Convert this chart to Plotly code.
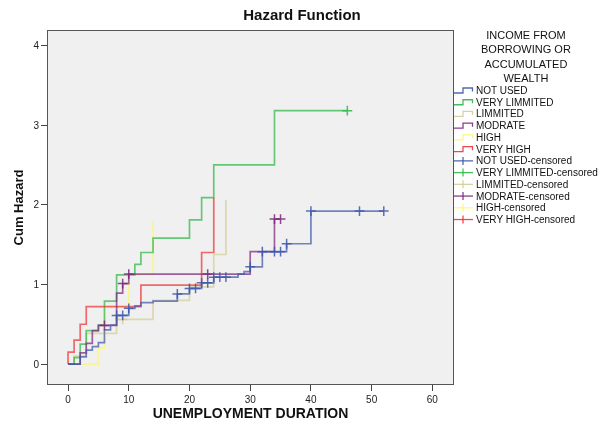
import plotly.graph_objects as go

# ---------------- data ----------------
groups = ["NOT USED", "VERY LIMMITED", "LIMMITED", "MODRATE", "HIGH", "VERY HIGH"]
colors = ["#3E58AC", "#2EB848", "#D3CE97", "#7C287D", "#FBF873", "#EF3338"]

not_used_t = [2, 3, 4, 5, 6, 7, 8, 10, 11, 12, 14, 18, 20, 22, 24, 28, 29, 30, 32, 36, 40]
not_used_h = [0.09, 0.175, 0.22, 0.27, 0.43, 0.49, 0.61, 0.70, 0.73, 0.77, 0.79, 0.88, 0.95,
              1.02, 1.09, 1.13, 1.16, 1.22, 1.41, 1.51, 1.92]
not_used_ct = [8, 9, 10, 18, 20, 21, 22, 23, 24, 25, 26, 30, 32, 34, 35, 36, 40, 48, 52]
not_used_ch = [0.61, 0.61, 0.70, 0.88, 0.95, 0.95, 1.02, 1.02, 1.09, 1.09, 1.09, 1.22, 1.41,
               1.41, 1.41, 1.51, 1.92, 1.92, 1.92]

very_limmited_t = [1, 2, 3, 5, 6, 8, 11, 12, 14, 20, 22, 24, 34]
very_limmited_h = [0.08, 0.25, 0.42, 0.49, 0.79, 1.12, 1.25, 1.40, 1.58, 1.81, 2.09, 2.50, 3.18]
very_limmited_ct = [46]
very_limmited_ch = [3.18]

limmited_t = [1, 3, 8, 14, 20, 24, 26]
limmited_h = [0.10, 0.385, 0.56, 0.80, 0.97, 1.375, 2.06]
limmited_ct = [9]
limmited_ch = [0.56]

modrate_t = [2, 3, 4, 5, 8, 9, 10, 30, 34]
modrate_h = [0.14, 0.26, 0.42, 0.485, 0.89, 1.01, 1.13, 1.41, 1.82]
modrate_ct = [6, 9, 10, 23, 34, 35]
modrate_ch = [0.485, 1.01, 1.13, 1.13, 1.82, 1.82]

high_t = [5, 6, 10, 14]
high_h = [0.20, 0.72, 1.12, 1.80]
high_ct = []
high_ch = []

very_high_t = [0, 1, 2, 3, 12, 22, 24]
very_high_h = [0.15, 0.30, 0.50, 0.72, 0.99, 1.40, 2.09]
very_high_ct = []
very_high_ch = []

x_ticks = [0, 10, 20, 30, 40, 50, 60]
y_ticks = [0, 1, 2, 3, 4]

series = [
    (not_used_t, not_used_h, not_used_ct, not_used_ch),
    (very_limmited_t, very_limmited_h, very_limmited_ct, very_limmited_ch),
    (limmited_t, limmited_h, limmited_ct, limmited_ch),
    (modrate_t, modrate_h, modrate_ct, modrate_ch),
    (high_t, high_h, high_ct, high_ch),
    (very_high_t, very_high_h, very_high_ct, very_high_ch),
]

FONT = "Liberation Sans, Arial, sans-serif"
W, H = 605, 424
PL, PR, PT, PB = 48, 453, 31, 384          # plot frame in pixels
ML, MT, MR, MB = PL, PT, W - PR, H - PB
PW, PH = PR - PL, PB - PT

fig = go.Figure()

draw_order = [2, 4, 1, 5, 3, 0]
for i in draw_order:
    t, h, ct, ch = series[i]
    xs = [0] + list(t)
    ys = [0] + list(h)
    if ct and max(ct) > xs[-1]:
        xs.append(max(ct))
        ys.append(ys[-1])
    fig.add_trace(go.Scatter(
        x=xs, y=ys, mode="lines", line=dict(color=colors[i], width=1.7, shape="hv"),
        opacity=0.72, name=groups[i], showlegend=False, hoverinfo="skip"))
for i in draw_order:
    t, h, ct, ch = series[i]
    if ct:
        fig.add_trace(go.Scatter(
            x=ct, y=ch, mode="markers",
            marker=dict(symbol="cross-thin", size=7, line=dict(color=colors[i], width=1.5)),
            opacity=0.85, name=groups[i] + "-censored", showlegend=False, hoverinfo="skip"))

# ---------------- manual legend (SPSS style), positions in pixels ----------------
def xp(px):
    return (px - PL) / PW

def yp(py):
    return (PB - py) / PH

shapes = []
annotations = []
annotations.append(dict(text="INCOME FROM<br>BORROWING OR<br>ACCUMULATED<br>WEALTH",
                        xref="paper", yref="paper", x=xp(526), y=yp(56.5),
                        xanchor="center", yanchor="middle", align="center", showarrow=False,
                        font=dict(family=FONT, size=11, color="#111")))

labels = groups + [g + "-censored" for g in groups]
for k, lab in enumerate(labels):
    py = 90.5 + k * 11.73
    col = colors[k % 6]
    if k < 6:
        path = "M {},{} H {} V {} H {} V {}".format(
            xp(454), yp(py + 2.5), xp(463), yp(py - 2.5), xp(472.5), yp(py + 1))
        shapes.append(dict(type="path", path=path, xref="paper", yref="paper",
                           line=dict(color=col, width=1.3), opacity=0.9))
    else:
        shapes.append(dict(type="line", xref="paper", yref="paper", x0=xp(454), x1=xp(473),
                           y0=yp(py), y1=yp(py), line=dict(color=col, width=1.3), opacity=0.9))
        shapes.append(dict(type="line", xref="paper", yref="paper", x0=xp(463), x1=xp(463),
                           y0=yp(py - 4), y1=yp(py + 4), line=dict(color=col, width=1.3), opacity=0.9))
    annotations.append(dict(text=lab, xref="paper", yref="paper", x=xp(474), y=yp(py),
                            xanchor="left", yanchor="middle", showarrow=False,
                            font=dict(family=FONT, size=10, color="#111")))

fig.update_layout(
    width=W, height=H,
    margin=dict(l=ML, r=MR, t=MT, b=MB, pad=0, autoexpand=False),
    paper_bgcolor="white", plot_bgcolor="#F0F0F0",
    title=dict(text="<b>Hazard Function</b>", x=302 / W, xref="container", xanchor="center",
               y=1 - 15 / H, yref="container", yanchor="middle",
               font=dict(family=FONT, size=15, color="#111")),
    font=dict(family=FONT, color="#111"),
    showlegend=False,
    shapes=shapes, annotations=annotations,
)
fig.update_xaxes(range=[-3.3, 63.4], tickvals=x_ticks, ticks="outside", ticklen=6, tickcolor="#444",
                 showline=True, mirror=True, linecolor="#555", linewidth=1, showgrid=False, zeroline=False,
                 automargin=False,
                 tickfont=dict(family=FONT, size=10, color="#222"),
                 title=dict(text="<b>UNEMPLOYMENT DURATION</b>", standoff=3,
                            font=dict(family=FONT, size=14, color="#111")))
fig.update_yaxes(range=[-0.25, 4.18], tickvals=y_ticks, ticks="outside", ticklen=6, tickcolor="#444",
                 showline=True, mirror=True, linecolor="#555", linewidth=1, showgrid=False, zeroline=False,
                 automargin=False,
                 tickfont=dict(family=FONT, size=10, color="#222"),
                 title=dict(text="<b>Cum Hazard</b>", standoff=6,
                            font=dict(family=FONT, size=13, color="#111")))

fig.write_html("out.html", config={"displayModeBar": False},
               post_script="document.body.style.margin='0px';")
